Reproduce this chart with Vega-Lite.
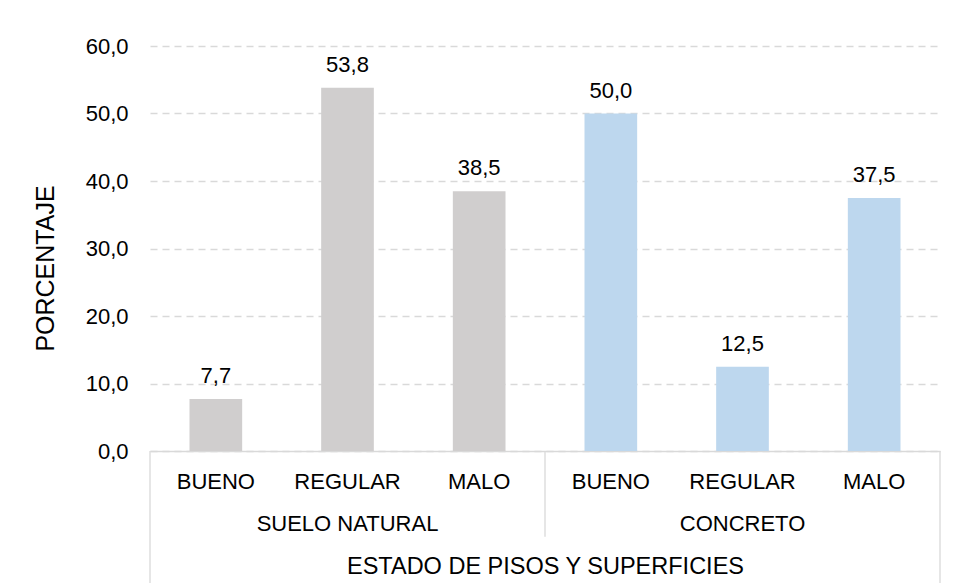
{
  "$schema": "https://vega.github.io/schema/vega-lite/v6.json",
  "width": 790,
  "height": 405,
  "autosize": {"type": "none"},
  "padding": {"left": 150, "top": 46, "right": 17, "bottom": 132},
  "background": "white",
  "config": {
    "view": {"stroke": null},
    "font": "Liberation Sans",
    "locale": {"number": {"decimal": ",", "thousands": ".", "grouping": [3], "currency": ["", " €"]}}
  },
  "data": {
    "values": [
      {"categoria": "SUELO NATURAL|BUENO", "grupo": "SUELO NATURAL", "estado": "BUENO", "valor": 7.7},
      {"categoria": "SUELO NATURAL|REGULAR", "grupo": "SUELO NATURAL", "estado": "REGULAR", "valor": 53.8},
      {"categoria": "SUELO NATURAL|MALO", "grupo": "SUELO NATURAL", "estado": "MALO", "valor": 38.5},
      {"categoria": "CONCRETO|BUENO", "grupo": "CONCRETO", "estado": "BUENO", "valor": 50.0},
      {"categoria": "CONCRETO|REGULAR", "grupo": "CONCRETO", "estado": "REGULAR", "valor": 12.5},
      {"categoria": "CONCRETO|MALO", "grupo": "CONCRETO", "estado": "MALO", "valor": 37.5}
    ]
  },
  "layer": [
    {
      "mark": {"type": "bar", "width": {"band": 0.4}},
      "encoding": {
        "x": {
          "field": "categoria",
          "type": "nominal",
          "title": "ESTADO DE PISOS Y SUPERFICIES",
          "scale": {
            "domain": ["SUELO NATURAL|BUENO", "SUELO NATURAL|REGULAR", "SUELO NATURAL|MALO", "CONCRETO|BUENO", "CONCRETO|REGULAR", "CONCRETO|MALO"],
            "paddingInner": 0,
            "paddingOuter": 0
          },
          "axis": {
            "labelExpr": "split(datum.value, '|')[1] == 'REGULAR' ? [split(datum.value, '|')[1], split(datum.value, '|')[0]] : split(datum.value, '|')[1]",
            "labelFontSize": 22,
            "labelLineHeight": 42,
            "labelPadding": 20,
            "labelAngle": 0,
            "labelLimit": 0,
            "labelColor": "#000000",
            "ticks": false,
            "domainColor": "#d9d9d9",
            "domainWidth": 1.3,
            "titleFontSize": 23.5,
            "titleFontWeight": "normal",
            "titleColor": "#000000",
            "titleBaseline": "alphabetic",
            "titleY": 122
          }
        },
        "y": {
          "field": "valor",
          "type": "quantitative",
          "title": "PORCENTAJE",
          "scale": {"domain": [0, 60], "nice": false, "zero": true},
          "axis": {
            "values": [0, 10, 20, 30, 40, 50, 60],
            "format": ".1f",
            "labelFontSize": 22,
            "labelPadding": 22,
            "labelColor": "#000000",
            "ticks": false,
            "domain": false,
            "grid": true,
            "gridColor": "#d9d9d9",
            "gridDash": [7, 5],
            "gridWidth": 1.3,
            "titleFontSize": 25,
            "titleFontWeight": "normal",
            "titleColor": "#000000",
            "titleBaseline": "alphabetic",
            "titleAlign": "center",
            "titleX": -97,
            "titleY": 222
          }
        },
        "color": {
          "field": "grupo",
          "type": "nominal",
          "scale": {"domain": ["SUELO NATURAL", "CONCRETO"], "range": ["#d0cece", "#bdd7ee"]},
          "legend": null
        }
      }
    },
    {
      "mark": {"type": "text", "baseline": "alphabetic", "dy": -16, "fontSize": 22, "color": "#000000"},
      "encoding": {
        "x": {"field": "categoria", "type": "nominal"},
        "y": {"field": "valor", "type": "quantitative"},
        "text": {"field": "valor", "type": "quantitative", "format": ".1f"}
      }
    },
    {
      "data": {"values": [{}]},
      "mark": {"type": "rule", "color": "#d9d9d9", "strokeWidth": 1.3},
      "encoding": {
        "x": {"datum": "SUELO NATURAL|BUENO", "type": "nominal", "bandPosition": 0},
        "y": {"datum": 0, "type": "quantitative"},
        "y2": {"datum": -20}
      }
    },
    {
      "data": {"values": [{}]},
      "mark": {"type": "rule", "color": "#d9d9d9", "strokeWidth": 1.3},
      "encoding": {
        "x": {"datum": "CONCRETO|BUENO", "type": "nominal", "bandPosition": 0},
        "y": {"datum": 0, "type": "quantitative"},
        "y2": {"datum": -12.7}
      }
    },
    {
      "data": {"values": [{}]},
      "mark": {"type": "rule", "color": "#d9d9d9", "strokeWidth": 1.3},
      "encoding": {
        "x": {"datum": "CONCRETO|MALO", "type": "nominal", "bandPosition": 1},
        "y": {"datum": 0, "type": "quantitative"},
        "y2": {"datum": -20}
      }
    }
  ]
}
